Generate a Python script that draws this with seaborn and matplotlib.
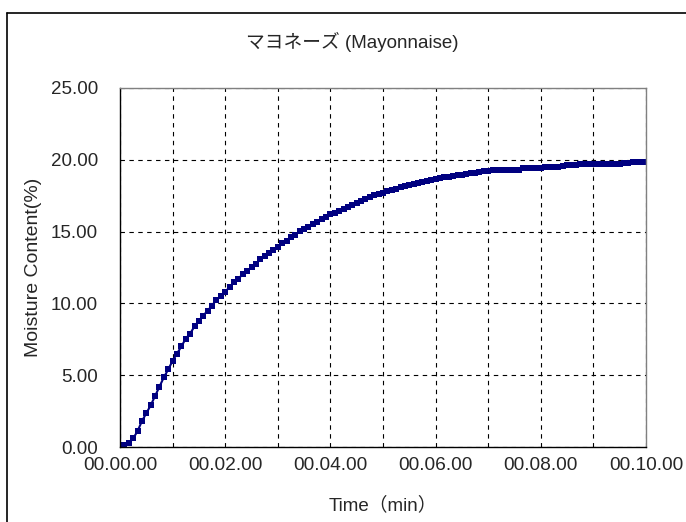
import matplotlib
matplotlib.use("Agg")
import matplotlib.pyplot as plt
from matplotlib.lines import Line2D
import pandas as pd
import seaborn as sns

# moisture readings every 5 s, 0 .. 600 s
time_s = list(range(0, 605, 5))
moisture = [
    0.00, 0.15, 0.25, 0.60, 1.10, 1.80, 2.35, 2.90, 3.55, 4.20,
    4.85, 5.40, 6.00, 6.50, 7.00, 7.55, 7.90, 8.40, 8.80, 9.15,
    9.50, 9.85, 10.25, 10.50, 10.82, 11.12, 11.47, 11.70, 12.05, 12.28,
    12.51, 12.74, 13.07, 13.30, 13.53, 13.72, 13.95, 14.18, 14.37, 14.60,
    14.76, 15.02, 15.16, 15.34, 15.53, 15.69, 15.86, 16.04, 16.20, 16.31,
    16.45, 16.57, 16.73, 16.87, 17.01, 17.15, 17.28, 17.40, 17.52, 17.62,
    17.72, 17.82, 17.91, 18.00, 18.08, 18.16, 18.24, 18.32, 18.40, 18.47,
    18.54, 18.61, 18.68, 18.72, 18.77, 18.82, 18.87, 18.92, 18.97, 19.00,
    19.05, 19.10, 19.15, 19.20, 19.25, 19.27, 19.27, 19.28, 19.28, 19.30,
    19.30, 19.32, 19.42, 19.43, 19.43, 19.45, 19.45, 19.50, 19.52, 19.52,
    19.53, 19.55, 19.66, 19.67, 19.67, 19.68, 19.68, 19.68, 19.69, 19.70,
    19.70, 19.70, 19.70, 19.71, 19.72, 19.80, 19.81, 19.82, 19.82, 19.83,
    19.83,
]
x_ticks = [0, 120, 240, 360, 480, 600]
x_tick_labels = ["00.00.00", "00.02.00", "00.04.00", "00.06.00", "00.08.00", "00.10.00"]
y_ticks = [0, 5, 10, 15, 20, 25]
y_tick_labels = ["0.00", "5.00", "10.00", "15.00", "20.00", "25.00"]

df = pd.DataFrame({"time": time_s, "moisture": moisture})

sns.set_style("white")
plt.rcParams["font.family"] = ["Liberation Sans", "Noto Sans CJK JP", "DejaVu Sans"]

fig = plt.figure(figsize=(6.86, 5.22), dpi=100)
ax = fig.add_axes([120 / 686, 75 / 522, 526 / 686, 359 / 522])

sns.lineplot(data=df, x="time", y="moisture", ax=ax, color="#000080",
             marker="s", markersize=4.5, markeredgewidth=0, linewidth=1.5)

ax.set_xlim(0, 600)
ax.set_ylim(0, 25)
ax.set_xticks(x_ticks)
ax.set_xticklabels(x_tick_labels, fontsize=13.8)
ax.set_xticks(range(60, 600, 60), minor=True)
ax.set_yticks(y_ticks)
ax.set_yticklabels(y_tick_labels, fontsize=13.5)
ax.tick_params(axis="both", which="both", length=0)
ax.tick_params(axis="y", pad=16)
ax.tick_params(axis="x", pad=7)

ax.grid(True, which="both", color="black", linestyle=(0, (4, 4)), linewidth=0.8)
ax.set_axisbelow(True)

for side in ["top", "right"]:
    ax.spines[side].set_color("#808080")
for side in ["left", "bottom"]:
    ax.spines[side].set_color("black")
for s in ax.spines.values():
    s.set_linewidth(1.0)

ax.set_xlabel("Time（min）", fontsize=13.5, labelpad=16)
ax.set_ylabel("Moisture Content(%)", fontsize=14, labelpad=6)
fig.text(352 / 686, 1 - 42 / 522, "マヨネーズ (Mayonnaise)", fontsize=13.5,
         ha="center", va="center")

# outer chart-area frame (only left and top edges are visible)
fy = 1 - 13 / 522
fx = 7 / 686
fig.add_artist(Line2D([fx, fx], [0, fy], color="black", linewidth=1.2))
fig.add_artist(Line2D([fx, 1], [fy, fy], color="black", linewidth=1.2))

fig.savefig("out.png", dpi=100)
